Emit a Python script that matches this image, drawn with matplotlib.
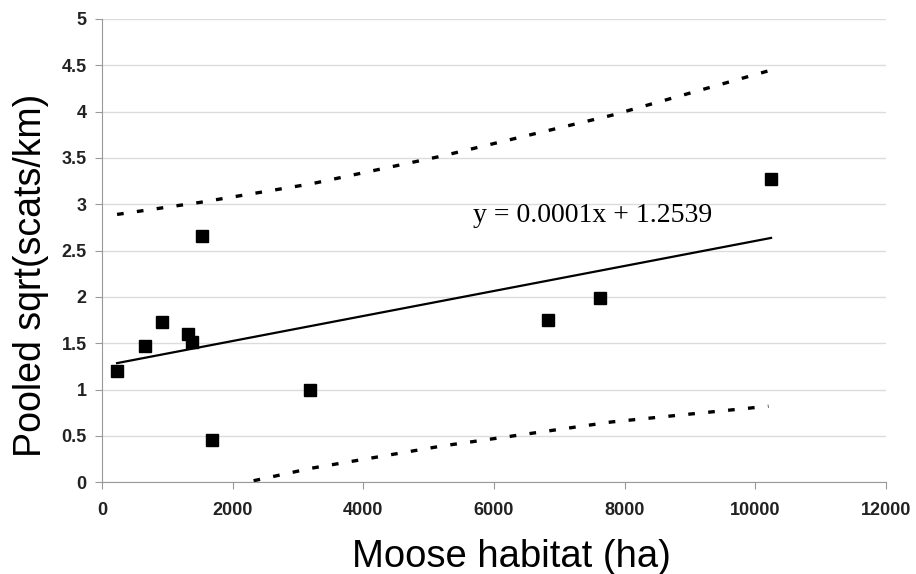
import numpy as np
import matplotlib
matplotlib.use("Agg")
import matplotlib.pyplot as plt

# observed points (moose habitat in ha, pooled sqrt scats/km)
habitat = [230, 660, 920, 1320, 1380, 1530, 1690, 3190, 6830, 7620, 10240]
sqrt_scats = [1.20, 1.47, 1.73, 1.60, 1.51, 2.66, 0.45, 1.00, 1.75, 1.99, 3.27]

# fitted line
fit_intercept = 1.2539
fit_slope = 0.000135
eq_label = "y = 0.0001x + 1.2539"

# prediction band (dashed)
band_x = [230, 1500, 3200, 5200, 7800, 10200]
band_upper = [2.89, 3.02, 3.22, 3.52, 3.96, 4.44]
band_lower = [-0.32, -0.11, 0.15, 0.39, 0.65, 0.82]

x_ticks = [0, 2000, 4000, 6000, 8000, 10000, 12000]
y_ticks = [0, 0.5, 1, 1.5, 2, 2.5, 3, 3.5, 4, 4.5, 5]

plt.rcParams['font.family'] = ['Liberation Sans', 'DejaVu Sans']

fig = plt.figure(figsize=(9.16, 5.74), dpi=100)
ax = fig.add_axes([0.1114, 0.160, 0.8559, 0.807])

ax.grid(axis='y', color='#dcdcdc', linewidth=1)
ax.set_axisbelow(True)

fx = np.array([min(habitat), max(habitat)])
ax.plot(fx, fit_intercept + fit_slope * fx, color='black', lw=1.6)

ax.plot(band_x, band_upper, color='black', lw=2.4, dashes=(2.0, 4.0))
ax.plot(band_x, band_lower, color='black', lw=2.4, dashes=(2.0, 4.0))

ax.plot(habitat, sqrt_scats, 's', color='black', ms=8.5)

ax.text(5680, 2.88, eq_label, family='Liberation Serif', fontsize=20, va='center', ha='left')

ax.set_xlim(0, 12000)
ax.set_ylim(0, 5)
ax.set_xticks(x_ticks)
ax.set_yticks(y_ticks)
ax.set_yticklabels([f"{v:g}" for v in y_ticks])
ax.tick_params(axis='both', labelsize=13, color='#999999', length=5)
ax.tick_params(axis='x', pad=9)
ax.tick_params(axis='y', pad=6)
for lab in ax.get_xticklabels() + ax.get_yticklabels():
    lab.set_fontweight('bold')
    lab.set_color('#222222')

for s in ['top', 'right']:
    ax.spines[s].set_visible(False)
for s in ['left', 'bottom']:
    ax.spines[s].set_color('#999999')

ax.set_xlabel("Moose habitat (ha)", fontsize=27.5)
ax.xaxis.set_label_coords(0.522, -0.123)
ax.set_ylabel("Pooled sqrt(scats/km)", fontsize=27)
ax.yaxis.set_label_coords(-0.068, 0.447)

fig.savefig("out.png", dpi=100)
